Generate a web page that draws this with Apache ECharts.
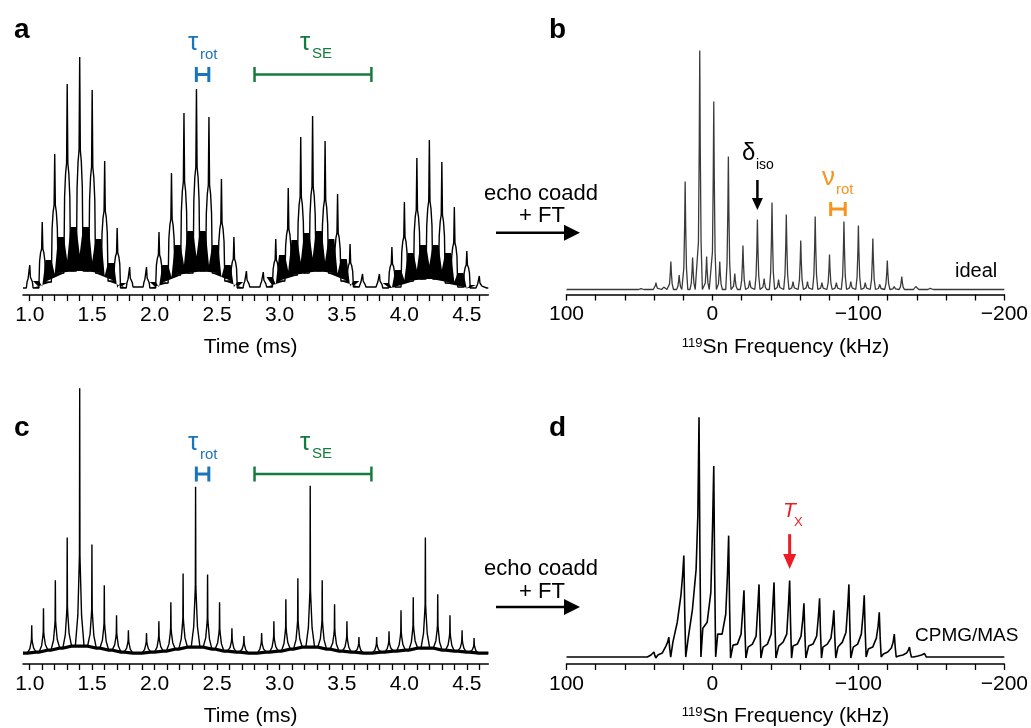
<!DOCTYPE html>
<html><head><meta charset="utf-8">
<script src="https://cdn.jsdelivr.net/npm/echarts@6/dist/echarts.min.js"></script>
<style>html,body{margin:0;padding:0;background:#fff}#main{width:1031px;height:728px}</style>
</head><body><div id="main"></div>
<script>
// ================= DATA =================
// Panel a – ideal time-domain echo train (arbitrary intensity units)
const aSpikeT = [1.0,1.1,1.2,1.3,1.4,1.5,1.6,1.7,1.8, 1.935,2.035,2.135,2.235,2.335,2.435,2.535,2.635,2.735, 2.87,2.97,3.07,3.17,3.265,3.365,3.465,3.565,3.665, 3.80,3.90,4.00,4.10,4.20,4.30,4.40,4.50,4.60];
const aSpikeH = [30,73,141,211,238,205,134,67,28, 28,63,122,182,206,178,116,58,24, 23,56,107,158,179,154,101,51,21, 21,48,93,137,155,133,88,44,19];
const aShoulderH = [18,46,90,132,145,128,84,42,17, 17,40,76,113,128,110,72,36,15, 15,35,66,98,108,95,62,32,14, 14,31,58,85,94,80,52,30,12];
const aBandLow  = [7,13,22,24,24,22,14,7, 7,12,20,22,24,22,14,7, 8,14,20,22,24,22,14,8, 7,8,14,16,16,12,8,7];
const aBandHigh = [14,35,58,68,68,56,32,12, 13,30,50,64,64,50,30,13, 18,40,55,62,64,56,36,14, 12,25,42,50,50,42,22,10];
const aBaseLevel = [7,8,8,8,7];
const aRotSpan = [2.334, 2.434];
const aSESpan = [2.80, 3.736];

// Panel c – experimental time-domain echo train
const cSpikeT = [1.016,1.11,1.205,1.30,1.40,1.498,1.597,1.695,1.79, 1.935,2.034,2.13,2.228,2.328,2.424,2.52,2.619,2.715, 2.857,2.955,3.051,3.147,3.246,3.342,3.441,3.54,3.636, 3.778,3.877,3.973,4.071,4.168,4.267,4.365,4.462,4.558];
const cSpikeH = [39,56,84,127,277,120,79,49,34, 31,43,62,91,178,90,62,36,28, 31,43,65,86,179,84,60,43,27, 27,33,54,67,127,70,49,34,26];
const cShoulderH = [22,28,38,50,95,48,36,27,21, 20,24,31,40,68,40,31,22,19, 20,24,32,38,65,38,30,24,18, 18,20,28,34,52,34,27,21,17];
const cGapLevel = [12,14,16,18,18,16,14,12, 12,13,15,17,17,15,13,12, 12,13,15,17,17,15,13,12, 12,13,14,16,16,14,13,12];
const cBaseLevel = [11,11,11,11,11];
const cNoiseAmp = 1.6;

// Panel b – ideal spectrum (kHz, intensity)
const bMainF = [48.7,38.7,28.5,18.7,8.7,-0.9,-10.9,-20.9,-30.8,-40.8,-50.6,-60.5,-70.4,-80.2,-90.1,-100.0,-109.9,-119.8,-129.7,-139.6,-149.5];
const bMainH = [6.5,12,33,113,244,193,138,49,75,92,80,54,78,40,73,69,56,34,18,10,7];
const bMinorF = [33,22.8,13.6,4.0,-5.0,-15.3,-25.5,-35.4,-45.3,-55.2,-65.1,-75.0,-84.9,-94.8,-104.7,-114.6,-124.5];
const bMinorH = [9,19.5,37,38,33,21,14,16,15,13,13,12,12,13,12,10,8];
const bBase = 5;
const bIsoF = -30.8;
const bRotSpan = [-81, -91];

// Panel d – CPMG/MAS spectrum
const dPeakF = [40.1,29.9,19.6,9.2,-0.9,-11.1,-21.6,-31.9,-42.2,-52.9,-62.7,-73.4,-83.2,-93.5,-104.0,-114.3,-124.6,-135.0,-145.3];
const dPeakH = [12,27,109,248,199,129,74,80,82,84,61,66,54,80,69,52,30,17,10.5];
const dFoot = [7,9,22,25,36,30,19,17,17,18,18,18,17,17,17,15,10,8,7];
const dPed = [7,11,42,55,42,30,20,20,20,22,20,20,20,22,20,17,12,9,8];
const dShoulder = [9,18,69,95,72,50,30,28,30,30,28,28,26,32,30,26,16,11,9];
const dNear = [10,22,90,150,140,90,55,58,60,60,45,48,40,58,50,38,22,14,10];
const dDip = [6,7,7,7,7,6,6,6,6,6,6,6,6,6,7,7,7,7,7];
const dBase = 7;
const dTxF = -52.9;

// Axes / ticks
const aXMin = 0.946, aXMax = 4.672;
const aTickVals = [1.0,1.1,1.2,1.3,1.4,1.5,1.6,1.7,1.8,1.9,2.0,2.1,2.2,2.3,2.4,2.5,2.6,2.7,2.8,2.9,3.0,3.1,3.2,3.3,3.4,3.5,3.6,3.7,3.8,3.9,4.0,4.1,4.2,4.3,4.4,4.5,4.6];
const aLabelVals = [1.0,1.5,2.0,2.5,3.0,3.5,4.0,4.5];
const fTickVals = [100,80,60,40,20,0,-20,-40,-60,-80,-100,-120,-140,-160,-180,-200];
const fLabelVals = [100,0,-100,-200];

// ================= BUILD TRACES =================
function buildATrace() {
  const pts = [[aXMin, aBaseLevel[0]]];
  for (let e = 0; e < 4; e++) {
    for (let i = 0; i < 9; i++) {
      const k = e*9+i, t = aSpikeT[k], h = aSpikeH[k], s = aShoulderH[k];
      const ll = i > 0 ? aBandLow[e*8+i-1] : aBaseLevel[e];
      const rl = i < 8 ? aBandLow[e*8+i] : aBaseLevel[e+1];
      pts.push([t-0.027, ll],[t-0.021, 0.74*s],[t-0.013, 0.92*s],[t-0.005, s],[t, h],
               [t+0.005, s],[t+0.013, 0.92*s],[t+0.021, 0.74*s],[t+0.027, rl]);
      if (i < 8) pts.push([aSpikeT[k+1]-0.027, rl]);
    }
    pts.push([aSpikeT[e*9+8]+0.06, aBaseLevel[e+1]]);
    if (e < 3) pts.push([aSpikeT[(e+1)*9]-0.06, aBaseLevel[e+1]]);
  }
  pts.push([aXMax, aBaseLevel[4]]);
  return pts;
}
const cBasePts = [];
function buildCTrace() {
  const pts = [[aXMin, cBaseLevel[0]]];
  cBasePts.push([aXMin, cBaseLevel[0]]);
  for (let e = 0; e < 4; e++) {
    for (let i = 0; i < 9; i++) {
      const k = e*9+i, t = cSpikeT[k], h = cSpikeH[k], s = cShoulderH[k];
      const lg = i > 0 ? cGapLevel[e*8+i-1] : cBaseLevel[e];
      const rg = i < 8 ? cGapLevel[e*8+i] : cBaseLevel[e+1];
      pts.push([t-0.035, lg],[t-0.015, lg+0.4*(s-lg)],[t-0.005, s],[t-0.002, 1.15*s],[t, h],[t+0.002, 1.15*s],[t+0.005, s],[t+0.015, rg+0.4*(s-rg)],[t+0.035, rg]);
      cBasePts.push([t-0.035, lg],[t+0.035, rg]);
    }
    const p1 = [cSpikeT[e*9+8]+0.06, cBaseLevel[e+1]];
    pts.push(p1); cBasePts.push(p1);
    if (e < 3) { const p2 = [cSpikeT[(e+1)*9]-0.06, cBaseLevel[e+1]]; pts.push(p2); cBasePts.push(p2); }
  }
  pts.push([aXMax, cBaseLevel[4]]); cBasePts.push([aXMax, cBaseLevel[4]]);
  return pts;
}
function buildBTrace() {
  const peaks = [];
  bMainF.forEach((f,i)=>peaks.push([f, bMainH[i]]));
  bMinorF.forEach((f,i)=>peaks.push([f, bMinorH[i]]));
  peaks.sort((p,q)=>q[0]-p[0]);
  const b = bBase, pts = [[100, b]];
  peaks.forEach(([f,h])=>{
    pts.push([f+1.8,b],[f+0.9,b+0.2*(h-b)],[f+0.35,b+0.6*(h-b)],[f,h],[f-0.35,b+0.6*(h-b)],[f-0.9,b+0.2*(h-b)],[f-1.8,b]);
  });
  pts.push([-200, b]);
  return pts;
}
function buildDTrace() {
  const pts = [[100, dBase]];
  dPeakF.forEach((f,i)=>{
    const h = dPeakH[i], dp = dDip[i];
    pts.push([f+7.5,dFoot[i]],[f+4.5,dPed[i]],[f+2,dShoulder[i]],[f+0.8,dNear[i]],[f,h],[f-0.6,dp+0.45*(h-dp)],[f-1.3,dp]);
  });
  pts.push([-150, dBase],[-200, dBase]);
  return pts;
}

// ================= CHART =================
const FONT = '"Liberation Sans", Arial, sans-serif';
const BLUE = '#1b75bc', GREEN = '#177a3e', ORANGE = '#f7941d', RED = '#ed1c24';

function timeAxis(gi) {
  return {gridIndex: gi, type: 'value', min: aXMin, max: aXMax,
    axisLine: {lineStyle: {color: '#000', width: 1.5}},
    axisTick: {customValues: aTickVals, length: 6, lineStyle: {color: '#000', width: 1.3}},
    axisLabel: {customValues: aLabelVals, formatter: v => v.toFixed(1), color: '#000', fontSize: 21, fontFamily: FONT, margin: 9.5},
    splitLine: {show: false},
    name: 'Time (ms)', nameLocation: 'middle', nameGap: 42,
    nameTextStyle: {color: '#000', fontSize: 21, fontFamily: FONT, padding: [0, 10, 0, 0]}};
}
function freqAxis(gi) {
  return {gridIndex: gi, type: 'value', min: -200, max: 100, inverse: true,
    axisLine: {lineStyle: {color: '#000', width: 1.5}},
    axisTick: {customValues: fTickVals, length: 6, lineStyle: {color: '#000', width: 1.3}},
    axisLabel: {customValues: fLabelVals, formatter: v => v < 0 ? '\u2212' + Math.abs(v) : String(v), color: '#000', fontSize: 21, fontFamily: FONT, margin: 9.5},
    splitLine: {show: false},
    name: '{sup|119}Sn Frequency (kHz)', nameLocation: 'middle', nameGap: 42,
    nameTextStyle: {color: '#000', fontSize: 21, fontFamily: FONT,
      rich: {sup: {fontSize: 13, fontFamily: FONT, color: '#000', verticalAlign: 'top', lineHeight: 13}}}};
}
function bracketRender(color, w, halfH) {
  return function (params, api) {
    const y = api.value(2);
    const p1 = api.coord([api.value(0), y]), p2 = api.coord([api.value(1), y]);
    const st = {stroke: color, lineWidth: w};
    return {type: 'group', children: [
      {type: 'line', shape: {x1: p1[0], y1: p1[1], x2: p2[0], y2: p2[1]}, style: st},
      {type: 'line', shape: {x1: p1[0], y1: p1[1]-halfH, x2: p1[0], y2: p1[1]+halfH}, style: st},
      {type: 'line', shape: {x1: p2[0], y1: p2[1]-halfH, x2: p2[0], y2: p2[1]+halfH}, style: st}
    ]};
  };
}
function arrowRender(color, w, headW, headL) {
  return function (params, api) {
    const x = api.value(0);
    const p0 = api.coord([x, api.value(1)]), p1 = api.coord([x, api.value(2)]);
    return {type: 'group', children: [
      {type: 'line', shape: {x1: p0[0], y1: p0[1], x2: p1[0], y2: p1[1]-headL+1}, style: {stroke: color, lineWidth: w}},
      {type: 'polygon', shape: {points: [[p1[0]-headW/2, p1[1]-headL],[p1[0]+headW/2, p1[1]-headL],[p1[0], p1[1]]]}, style: {fill: color}}
    ]};
  };
}
function txt(text, x, y, size, st) {
  return {type: 'text', x: x, y: y, silent: true, z: 100,
    style: Object.assign({text: text, fill: '#000', fontSize: size, fontFamily: FONT,
      align: 'left', verticalAlign: 'middle', textAlign: 'left', textVerticalAlign: 'middle'}, st || {})};
}
const centerSt = {align: 'center', textAlign: 'center'};

const aTrace = buildATrace();
const cTrace = buildCTrace();
const bTrace = buildBTrace();
const dTrace = buildDTrace();

const chart = echarts.init(document.getElementById('main'), null, {renderer: 'canvas'});
chart.setOption({
  animation: false,
  backgroundColor: '#fff',
  grid: [
    {left: 23, right: 542.7, top: 45, height: 250},
    {left: 566.5, right: 26, top: 44.5, height: 250},
    {left: 23, right: 542.7, top: 365.3, height: 300},
    {left: 566.5, right: 26, top: 365.5, height: 300}
  ],
  xAxis: [timeAxis(0), freqAxis(1), timeAxis(2), freqAxis(3)],
  yAxis: [
    {gridIndex: 0, type: 'value', min: 0, max: 250, show: false},
    {gridIndex: 1, type: 'value', min: 0, max: 250, show: false},
    {gridIndex: 2, type: 'value', min: 0, max: 300, show: false},
    {gridIndex: 3, type: 'value', min: 0, max: 300, show: false}
  ],
  series: [
    // dense oscillation between rotor echoes (panel a), one region per spin echo
    {type: 'custom', xAxisIndex: 0, yAxisIndex: 0, silent: true,
      data: [0,1,2,3].map(e => [aSpikeT[e*9], 0]), encode: {x: 0, y: 1},
      renderItem: function (params, api) {
        const e = params.dataIndex, top = [], bot = [];
        for (let i = 0; i < 8; i++) {
          const k = e*9+i, t0 = aSpikeT[k], t1 = aSpikeT[k+1];
          const hi = aBandHigh[e*8+i], lo = aBandLow[e*8+i];
          top.push(api.coord([t0+0.026, hi]), api.coord([t1-0.026, hi]));
          if (i < 7) top.push(api.coord([t1, 0.6*Math.min(hi, aBandHigh[e*8+i+1])]));
          bot.unshift(api.coord([t0+0.02, lo]), api.coord([t1-0.02, lo]));
        }
        return {type: 'polygon', shape: {points: top.concat(bot)}, style: {fill: '#000'}};
      }},
    {type: 'line', xAxisIndex: 0, yAxisIndex: 0, data: aTrace, showSymbol: false, silent: true,
      lineStyle: {color: '#000', width: 1.4}},
    {type: 'custom', xAxisIndex: 0, yAxisIndex: 0, silent: true,
      data: [[aRotSpan[0], aRotSpan[1], 220.5]], encode: {x: [0,1], y: 2}, renderItem: bracketRender(BLUE, 3, 7.5)},
    {type: 'custom', xAxisIndex: 0, yAxisIndex: 0, silent: true,
      data: [[aSESpan[0], aSESpan[1], 220.5]], encode: {x: [0,1], y: 2}, renderItem: bracketRender(GREEN, 2.5, 7.5)},

    {type: 'line', xAxisIndex: 1, yAxisIndex: 1, data: bTrace, showSymbol: false, silent: true,
      lineStyle: {color: '#3a3a3a', width: 1.3}},
    {type: 'custom', xAxisIndex: 1, yAxisIndex: 1, silent: true,
      data: [[bIsoF, 114.5, 84.5]], encode: {x: 0, y: [1,2]}, renderItem: arrowRender('#000', 2.5, 11, 12)},
    {type: 'custom', xAxisIndex: 1, yAxisIndex: 1, silent: true,
      data: [[bRotSpan[0], bRotSpan[1], 85.5]], encode: {x: [0,1], y: 2}, renderItem: bracketRender(ORANGE, 3, 7)},

    {type: 'custom', xAxisIndex: 2, yAxisIndex: 2, silent: true,
      data: [[aXMin, 0]], encode: {x: 0, y: 1},
      renderItem: function (params, api) {
        const up = cBasePts.map(p => api.coord([p[0], p[1]+cNoiseAmp]));
        const lo = cBasePts.map(p => api.coord([p[0], p[1]-cNoiseAmp])).reverse();
        return {type: 'polygon', shape: {points: up.concat(lo)}, style: {fill: '#000'}};
      }},
    {type: 'line', xAxisIndex: 2, yAxisIndex: 2, data: cTrace, showSymbol: false, silent: true,
      lineStyle: {color: '#000', width: 1.4}},
    {type: 'custom', xAxisIndex: 2, yAxisIndex: 2, silent: true,
      data: [[aRotSpan[0], aRotSpan[1], 190.8]], encode: {x: [0,1], y: 2}, renderItem: bracketRender(BLUE, 3, 7.5)},
    {type: 'custom', xAxisIndex: 2, yAxisIndex: 2, silent: true,
      data: [[aSESpan[0], aSESpan[1], 190.8]], encode: {x: [0,1], y: 2}, renderItem: bracketRender(GREEN, 2.5, 7.5)},

    {type: 'line', xAxisIndex: 3, yAxisIndex: 3, data: dTrace, showSymbol: false, silent: true,
      lineStyle: {color: '#000', width: 1.6}},
    {type: 'custom', xAxisIndex: 3, yAxisIndex: 3, silent: true,
      data: [[dTxF, 130.5, 95.5]], encode: {x: 0, y: [1,2]}, renderItem: arrowRender(RED, 3, 13, 15)}
  ],
  graphic: {elements: [
    txt('a', 14, 30.3, 28, {fontWeight: 'bold'}),
    txt('b', 549, 30.3, 28, {fontWeight: 'bold'}),
    txt('c', 14, 428.3, 28, {fontWeight: 'bold'}),
    txt('d', 549, 428.3, 28, {fontWeight: 'bold'}),
    txt('echo coadd', 541, 194.4, 22, centerSt),
    txt('+ FT', 542, 216.4, 22, centerSt),
    txt('echo coadd', 541, 569.4, 22, centerSt),
    txt('+ FT', 542, 592.4, 22, centerSt),
    {type: 'line', silent: true, shape: {x1: 496, y1: 232.7, x2: 568, y2: 232.7}, style: {stroke: '#000', lineWidth: 2.5}},
    {type: 'polygon', silent: true, shape: {points: [[564, 224.7],[580, 232.7],[564, 240.7]]}, style: {fill: '#000'}},
    {type: 'line', silent: true, shape: {x1: 496, y1: 607, x2: 568, y2: 607}, style: {stroke: '#000', lineWidth: 2.5}},
    {type: 'polygon', silent: true, shape: {points: [[564, 599],[580, 607],[564, 615]]}, style: {fill: '#000'}},
    txt('\u03c4', 188, 43, 26, {fill: BLUE}),
    txt('rot', 200, 54.8, 15, {fill: BLUE}),
    txt('\u03c4', 300, 43, 26, {fill: GREEN}),
    txt('SE', 312, 53.8, 15, {fill: GREEN}),
    txt('\u03c4', 188, 443, 26, {fill: BLUE}),
    txt('rot', 200, 454.8, 15, {fill: BLUE}),
    txt('\u03c4', 300, 443, 26, {fill: GREEN}),
    txt('SE', 312, 453.8, 15, {fill: GREEN}),
    txt('\u03b4', 742, 153, 24),
    txt('iso', 756, 165.2, 14),
    txt('\u03bd', 822, 178, 26, {fill: ORANGE}),
    txt('rot', 836, 189.8, 15, {fill: ORANGE}),
    txt('ideal', 955, 271.1, 20),
    txt('T', 783, 510.7, 21, {fill: RED, fontStyle: 'italic'}),
    txt('X', 794, 522.5, 13, {fill: RED}),
    txt('CPMG/MAS', 915, 635.4, 19)
  ]}
});
</script>
</body></html>
